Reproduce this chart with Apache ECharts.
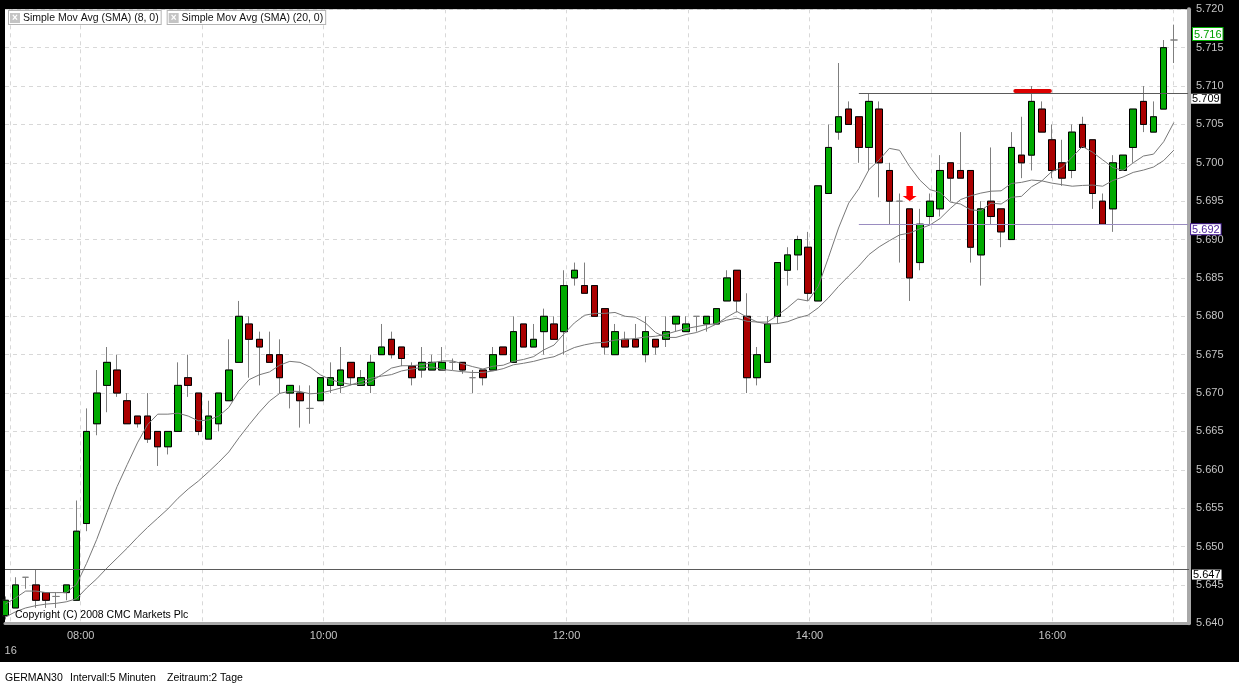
<!DOCTYPE html>
<html><head><meta charset="utf-8">
<script src="https://cdn.jsdelivr.net/npm/echarts@6/dist/echarts.min.js"></script>
<style>
html,body{margin:0;padding:0;background:#fff;width:1244px;height:684px;overflow:hidden}
#bg{position:absolute;left:0;top:0;width:1239px;height:662px;background:#000}
#chart{position:absolute;left:0;top:0;width:1244px;height:684px}
</style></head><body>
<div id="bg"></div><div id="chart"></div>
<script>
const times = ["07:25","07:30","07:35","07:40","07:45","07:50","07:55",
"08:00","08:05","08:10","08:15","08:20","08:25","08:30","08:35","08:40","08:45","08:50","08:55",
"09:00","09:05","09:10","09:15","09:20","09:25","09:30","09:35","09:40","09:45","09:50","09:55",
"10:00","10:05","10:10","10:15","10:20","10:25","10:30","10:35","10:40","10:45","10:50","10:55",
"11:00","11:05","11:10","11:15","11:20","11:25","11:30","11:35","11:40","11:45","11:50","11:55",
"12:00","12:05","12:10","12:15","12:20","12:25","12:30","12:35","12:40","12:45","12:50","12:55",
"13:00","13:05","13:10","13:15","13:20","13:25","13:30","13:35","13:40","13:45","13:50","13:55",
"14:00","14:05","14:10","14:15","14:20","14:25","14:30","14:35","14:40","14:45","14:50","14:55",
"15:00","15:05","15:10","15:15","15:20","15:25","15:30","15:35","15:40","15:45","15:50","15:55",
"16:00","16:05","16:10","16:15","16:20","16:25","16:30","16:35","16:40","16:45","16:50","16:55",
"17:00"];

const opens = [5641,5642,5646,5645,5644,5643.5,5644,5643,5653,5666,5671,5673,5669,5667,5667,5665,5663,5665,5672,5670,
5664,5666,5669,5674,5679,5677,5675,5675,5670,5670,5668,5669,5671,5671,5674,5671,5671,5675,5677,5676,
5673.5,5673,5673,5673,5674,5674,5672,5673,5673,5676,5674,5679,5676,5678,5679,5678,5685,5684,5684,5681,
5675,5677,5677,5675,5677,5677,5679,5678,5680,5679,5679,5682,5686,5680,5672,5674,5680,5686,5688,5689,
5682,5696,5704,5707,5706,5702,5707,5699,5695,5694,5687,5693,5694,5700,5699,5699,5688,5695,5694,5690,
5701,5701,5707,5703,5700,5699,5705,5703,5695,5694,5699,5702,5708,5704,5707,5716];
const highs = [5643.5,5646,5646,5647,5644,5644,5645,5656,5668,5673,5676,5675,5670,5667,5670,5665,5665,5674,5675,5670,
5669,5670,5677,5682,5680,5678,5678,5677,5671,5671,5671,5672,5674,5676,5674,5673,5675,5679,5678,5676,
5674,5676,5675,5676,5674.5,5674,5673,5673,5676,5676,5680,5679,5679,5681,5680,5686,5687,5687,5684,5681,
5679,5678,5679,5680,5677,5680,5680,5680,5680,5680,5681,5686,5686,5683,5676,5680,5687,5689,5690.5,5691,
5697,5705,5713,5708,5706,5709,5708,5700,5696,5694,5694,5696,5701,5700,5704,5699,5695,5702,5694,5704,
5706,5710,5708,5705,5703,5705,5706,5703,5696,5701,5701,5707,5710,5708,5716,5718];
const lows = [5640.5,5642,5644.5,5642,5642,5642,5643,5643,5652,5664.5,5667.5,5669.5,5666,5665.5,5663.5,5660.5,5662,5665,5669.5,5664.5,
5664,5665,5669,5674,5672,5671,5674,5670,5668,5665.5,5666,5669,5670,5670,5671,5671,5670,5675,5674.5,5673.5,
5671,5672,5673,5673,5673,5672.5,5670,5671,5673,5675,5674,5676,5676,5675,5677,5675,5684,5683,5680,5675,
5675,5676,5676,5674,5675,5676,5678,5678,5678,5678,5679,5682,5680.5,5670,5671,5674,5679,5684,5686,5682,
5682,5696,5703,5705,5700,5699,5695.5,5692,5687,5682,5686,5692,5693,5695,5698,5687,5684,5692,5689,5690,
5698,5699,5704,5698,5697,5698,5702,5694,5692,5691,5699,5700,5704,5704,5707,5713];
const closes = [5643,5645,5646,5643,5643,5643.5,5645,5652,5665,5670,5674,5670,5666,5666,5664,5663,5665,5671,5671,5665,
5667,5670,5673,5680,5677,5676,5674,5672,5671,5669,5668,5672,5672,5673,5672,5672,5674,5676,5675,5674.5,
5672,5674,5674,5674,5674,5673,5672,5672,5675,5675,5678,5676,5677,5680,5677,5684,5686,5683,5680,5676,
5678,5676,5676,5678,5676,5678,5680,5679,5680,5680,5681,5685,5682,5672,5675,5679,5687,5688,5690,5683,
5697,5702,5706,5705,5702,5708,5700,5695,5695,5685,5692,5695,5699,5698,5698,5689,5694,5693,5691,5702,
5700,5708,5704,5699,5698,5704,5702,5696,5692,5700,5701,5707,5705,5706,5715,5716];

const sma8 = [5642.5,5643.3,5644.2,5644.2,5644.0,5644.0,5644.0,5645.06,5647.81,5650.94,5654.44,5657.81,5660.69,5663.5,5665.88,5667.25,5667.25,5667.38,5667.0,5666.38,
5666.5,5667.0,5668.13,5670.25,5671.75,5672.38,5672.75,5673.63,5674.13,5674.0,5673.38,5672.38,5671.75,5671.38,5671.13,5671.13,5671.5,5672.38,5673.25,5673.56,
5673.56,5673.69,5673.94,5674.19,5674.19,5673.81,5673.44,5673.13,5673.5,5673.63,5674.13,5674.38,5674.75,5675.63,5676.25,5677.75,5679.13,5680.13,5680.38,5680.38,
5680.5,5680.0,5679.88,5679.13,5677.88,5677.25,5677.25,5677.63,5677.88,5678.38,5679.0,5679.88,5680.63,5679.88,5679.25,5679.25,5680.13,5681.13,5682.25,5682.0,
5683.88,5687.63,5691.5,5694.75,5696.63,5699.13,5700.38,5701.88,5701.63,5699.5,5697.75,5696.5,5696.13,5694.88,5694.63,5693.88,5693.75,5694.75,5694.63,5695.5,
5695.63,5696.88,5697.63,5698.88,5699.38,5700.75,5702.13,5701.38,5700.38,5699.38,5699.0,5700.0,5700.88,5701.13,5702.75,5705.25];
const sma20 = [5640.8,5641.5,5642.0,5642.3,5642.5,5642.6,5642.8,5643.2,5644.6,5645.8,5647.2,5648.5,5649.8,5651.2,5652.5,5653.7,5654.9,5656.3,5657.5,5658.53,
5659.73,5660.98,5662.33,5664.18,5665.88,5667.5,5668.95,5669.95,5670.25,5670.2,5669.9,5670.0,5670.3,5670.65,5671.05,5671.5,5671.95,5672.2,5672.4,5672.88,
5673.13,5673.33,5673.38,5673.08,5672.93,5672.78,5672.68,5672.68,5672.88,5673.18,5673.68,5673.88,5674.13,5674.48,5674.73,5675.33,5675.93,5676.28,5676.53,5676.6,
5676.9,5677.0,5677.1,5677.3,5677.4,5677.65,5678.05,5678.4,5678.65,5678.9,5679.05,5679.5,5679.75,5679.35,5679.25,5679.0,5679.05,5679.3,5679.8,5680.15,
5681.1,5682.4,5683.9,5685.25,5686.55,5688.05,5689.05,5689.85,5690.6,5690.85,5691.4,5691.9,5692.75,5694.05,5695.2,5695.7,5696.05,5696.3,5696.35,5697.3,
5697.45,5697.75,5697.65,5697.35,5697.15,5696.95,5697.05,5697.1,5696.95,5697.7,5698.15,5698.75,5699.05,5699.45,5700.3,5701.65];

const gridHours = ["08:00","09:00","10:00","11:00","12:00","13:00","14:00","15:00","16:00","17:00"];
const hourLabels = ["08:00","10:00","12:00","14:00","16:00"];
const dayLabel = "16";
const yRange = {min: 5640, max: 5720, step: 5};
const levelLow = 5647, levelHigh = 5709, levelSupport = 5692, lastPrice = 5716;
const levelFrom = "14:25";
const arrowTime = "14:50", arrowPrice = 5696;
const redMarkFrom = "15:40", redMarkTo = "15:55", redMarkPrice = 5709.35;
const legendNames = ["Simple Mov Avg (SMA) (8, 0)", "Simple Mov Avg (SMA) (20, 0)"];

const FONT = "'Liberation Sans', Arial, sans-serif";
const XMIN = -0.03, XMAX = 116.49, XIN = 116.4;
const idx = t => times.indexOf(t);
const tickPos = t => { const i = idx(t); return i + 0.42 - 0.004 * (i - 7); };
const dayPos = 0.53;

const tickValues = [dayPos].concat(gridHours.map(tickPos));
const labelMap = {};
labelMap[dayPos.toFixed(3)] = "\n" + dayLabel;
hourLabels.forEach(l => { labelMap[tickPos(l).toFixed(3)] = l; });
const labelValues = [dayPos].concat(hourLabels.map(tickPos));
const fmtPrice = v => (v / 1000).toFixed(3);

const wickData = times.map((t, i) => [i, opens[i], closes[i], lows[i], highs[i]]);
const bodyData = [];
times.forEach((t, i) => {
  if (opens[i] !== closes[i]) bodyData.push([i, opens[i], closes[i], Math.min(opens[i], closes[i]), Math.max(opens[i], closes[i])]);
});
const line8 = sma8.map((v, i) => [i, v]);
const line20 = sma20.map((v, i) => [i, v]);

const boxLabel = {position: 'end', distance: 3, align: 'left', verticalAlign: 'top', fontSize: 11, fontFamily: FONT,
  lineHeight: 9, padding: [1, 1, 0, 1], backgroundColor: '#fff', color: '#000'};
const smallText = {fontSize: 10.5, fontWeight: 'normal', color: '#000', fontFamily: FONT};

const chart = echarts.init(document.getElementById('chart'), null, {renderer: 'canvas'});
chart.setOption({
  animation: false,
  backgroundColor: 'transparent',
  title: [
    {text: 'Copyright (C) 2008 CMC Markets Plc', left: 15, top: 609.5, padding: 0, textStyle: smallText},
    {text: 'GERMAN30', left: 5, top: 672.5, padding: 0, textStyle: smallText},
    {text: 'Intervall:5 Minuten', left: 70, top: 672.5, padding: 0, textStyle: smallText},
    {text: 'Zeitraum:2 Tage', left: 167, top: 672.5, padding: 0, textStyle: smallText}
  ],
  legend: {
    left: 3, top: 10, padding: 0, itemGap: 0, itemWidth: 1, itemHeight: 1, icon: 'none', selectedMode: false,
    data: legendNames,
    formatter: '{x|×} {name}',
    textStyle: {color: '#111', fontSize: 10.5, fontFamily: FONT, lineHeight: 12, padding: [1, 2, 0, 1],
      borderColor: '#b4b4b4', borderWidth: 1, backgroundColor: '#fff',
      rich: {x: {backgroundColor: '#c4c4c4', color: '#fff', fontWeight: 'bold', fontSize: 10, width: 10, height: 10, lineHeight: 10, align: 'center'}}}
  },
  grid: {left: 5, right: 55, top: 9.3, bottom: 60.7, show: true, backgroundColor: '#fff', borderWidth: 0, containLabel: false, outerBoundsMode: 'none'},
  xAxis: {
    type: 'value', min: XMIN, max: XMAX,
    axisLine: {show: true, onZero: false, lineStyle: {color: '#a8a8a8', width: 3}},
    axisTick: {show: false, customValues: tickValues},
    splitLine: {show: true, lineStyle: {color: '#d8d8d8', width: 1, type: [4, 4]}},
    axisLabel: {customValues: labelValues, formatter: v => labelMap[Number(v).toFixed(3)] || '',
      color: '#c4c4c4', fontSize: 11, fontFamily: FONT, margin: 5, lineHeight: 15}
  },
  yAxis: {
    type: 'value', position: 'right', min: yRange.min, max: yRange.max, interval: yRange.step, scale: true,
    axisLine: {show: true, onZero: false, lineStyle: {color: '#a8a8a8', width: 4}},
    axisTick: {show: false},
    splitLine: {show: true, lineStyle: {color: '#d8d8d8', width: 1, type: [4, 4]}},
    axisLabel: {formatter: v => fmtPrice(v), color: '#c4c4c4', fontSize: 11, fontFamily: FONT, margin: 7}
  },
  series: [
    {type: 'candlestick', name: 'wicks', data: wickData, encode: {x: 0, y: [1, 2, 3, 4]}, barWidth: 7, silent: true, z: 2,
      itemStyle: {color: '#7f7f7f', color0: '#7f7f7f', borderColor: '#7f7f7f', borderColor0: '#7f7f7f', borderColorDoji: '#7f7f7f', borderWidth: 1}},
    {type: 'candlestick', name: 'bodies', data: bodyData, encode: {x: 0, y: [1, 2, 3, 4]}, barWidth: 7, silent: true, z: 2,
      itemStyle: {color: '#00aa00', color0: '#aa0000', borderColor: '#000', borderColor0: '#000', borderColorDoji: '#000', borderWidth: 1},
      markLine: {
        symbol: ['none', 'none'], silent: true, animation: false,
        label: boxLabel,
        lineStyle: {type: 'solid', width: 1, color: '#5a5a5a'},
        data: [
          {yAxis: levelLow, lineStyle: {color: '#5a5a5a', type: 'solid', width: 1}, label: Object.assign({}, boxLabel, {formatter: fmtPrice(levelLow)})},
          [{coord: [idx(levelFrom), levelHigh], lineStyle: {color: '#5a5a5a', type: 'solid', width: 1}, label: Object.assign({}, boxLabel, {formatter: fmtPrice(levelHigh)})},
           {coord: [XIN, levelHigh]}],
          [{coord: [idx(levelFrom), levelSupport], lineStyle: {color: '#9a8cc0', type: 'solid', width: 1},
            label: Object.assign({}, boxLabel, {formatter: fmtPrice(levelSupport), color: '#4a1f9a', borderColor: '#4a1f9a', borderWidth: 1})},
           {coord: [XIN, levelSupport]}],
          {yAxis: lastPrice, lineStyle: {color: 'rgba(0,0,0,0)', width: 1},
            label: Object.assign({}, boxLabel, {formatter: fmtPrice(lastPrice), verticalAlign: 'bottom', distance: 4, lineHeight: 11, padding: [1, 1, 0, 1], color: '#00a000', borderColor: '#00b000', borderWidth: 1, opacity: 1})},
          [{coord: [idx(redMarkFrom) + 0.4, redMarkPrice], lineStyle: {color: '#dd0000', type: 'solid', width: 4, cap: 'round'}, label: {show: false}},
           {coord: [idx(redMarkTo) + 0.8, redMarkPrice]}]
        ]
      },
      markPoint: {
        silent: true, animation: false,
        data: [{coord: [idx(arrowTime), arrowPrice], symbol: 'path://M3.5,0L9.5,0L9.5,10L13,10L6.5,15L0,10L3.5,10Z',
          symbolSize: [14, 15], itemStyle: {color: '#ff0000'}, label: {show: false}}]
      }
    },
    {type: 'line', name: legendNames[0], data: line8, symbol: 'none', z: 3, silent: true,
      lineStyle: {color: '#787878', width: 1}, itemStyle: {color: '#787878'}},
    {type: 'line', name: legendNames[1], data: line20, symbol: 'none', z: 3, silent: true,
      lineStyle: {color: '#787878', width: 1}, itemStyle: {color: '#787878'}}
  ]
});
</script>
</body></html>
